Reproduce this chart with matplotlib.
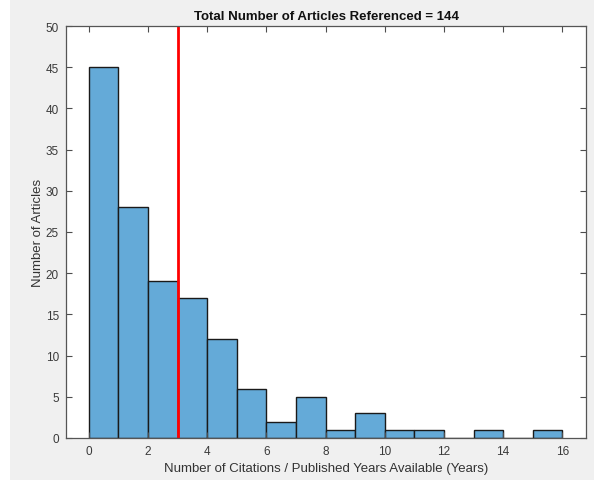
import matplotlib.pyplot as plt
from matplotlib.patches import Rectangle
import numpy as np

# Histogram counts per citation-rate bin (width 1)
bin_edges = np.arange(0, 17)
counts = [45, 28, 19, 17, 12, 6, 2, 5, 1, 3, 1, 1, 0, 1, 0, 1]
threshold = 3
total_articles = 144

plt.rcParams['font.family'] = ['Liberation Sans', 'DejaVu Sans']

fig = plt.figure(figsize=(5.94, 4.81), dpi=100, facecolor='white')
# grey window background
fig.patches.append(Rectangle((10 / 594, 0), 1, 1, transform=fig.transFigure,
                             facecolor='#f0f0f0', edgecolor='none', zorder=-10))

ax = fig.add_axes([66 / 594, 1 - 439 / 481, 520 / 594, 412 / 481])
ax.bar(bin_edges[:-1], counts, width=1, align='edge',
       color='#64aad8', edgecolor='#1a1a1a', linewidth=1.0)
ax.axvline(threshold, color='#ff0000', linewidth=2)

ax.set_xlim(-0.77, 16.8)
ax.set_ylim(0, 50)
ax.set_xticks(np.arange(0, 17, 2))
ax.set_yticks(np.arange(0, 51, 5))

tick_col = '#4d4d4d'
ax.tick_params(direction='in', top=True, right=True, length=4, width=0.8,
               labelsize=8.5, colors=tick_col, labelcolor='#3a3a3a', pad=5)
for s in ax.spines.values():
    s.set_color('#555555')
    s.set_linewidth(0.9)

ax.set_title(f'Total Number of Articles Referenced = {total_articles}',
             fontsize=9.5, fontweight='bold', color='#111111', pad=5)
ax.set_xlabel('Number of Citations / Published Years Available (Years)',
              fontsize=9.5, color='#333333', labelpad=4)
ax.set_ylabel('Number of Articles', fontsize=9.5, color='#333333', labelpad=1)

fig.savefig('out.png', dpi=100, facecolor=fig.get_facecolor())
